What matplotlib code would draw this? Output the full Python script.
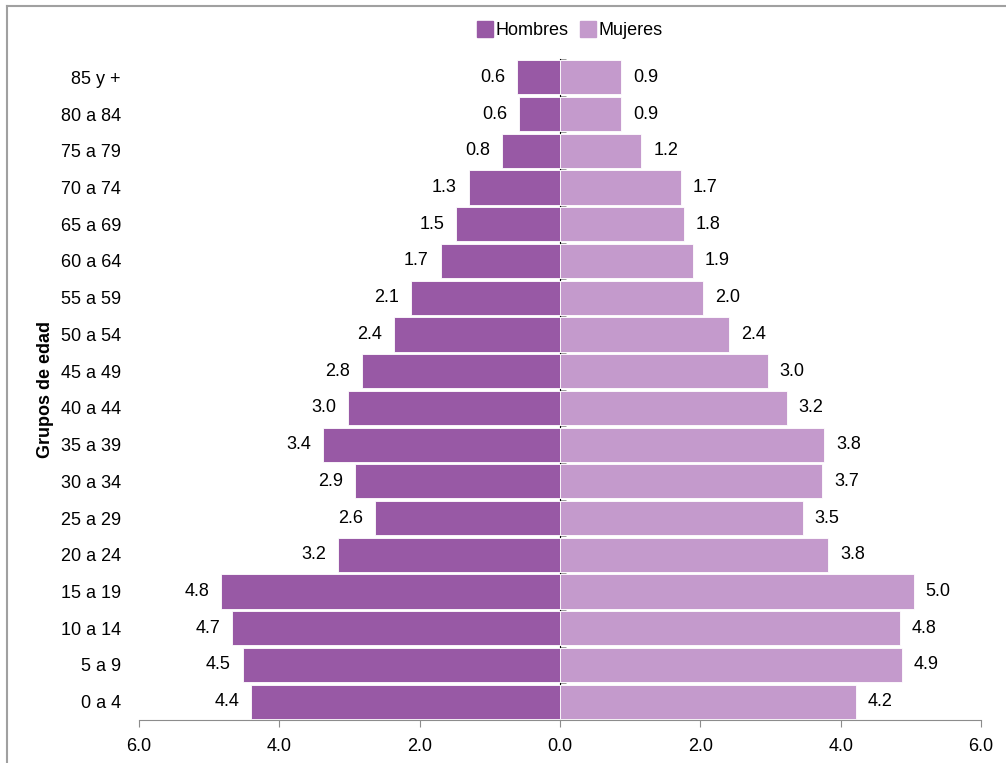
import matplotlib.pyplot as plt
from matplotlib.lines import Line2D
from matplotlib.ticker import FuncFormatter

plt.rcParams['font.family'] = ['Liberation Sans', 'DejaVu Sans']

# age groups, bottom to top
grupos = ['0 a 4', '5 a 9', '10 a 14', '15 a 19', '20 a 24', '25 a 29', '30 a 34',
          '35 a 39', '40 a 44', '45 a 49', '50 a 54', '55 a 59', '60 a 64',
          '65 a 69', '70 a 74', '75 a 79', '80 a 84', '85 y +']
hombres = [4.40, 4.52, 4.67, 4.83, 3.16, 2.64, 2.92, 3.38, 3.02, 2.82, 2.36, 2.12,
           1.70, 1.48, 1.30, 0.83, 0.58, 0.61]
mujeres = [4.22, 4.87, 4.84, 5.04, 3.82, 3.46, 3.74, 3.77, 3.23, 2.96, 2.41, 2.04,
           1.89, 1.77, 1.72, 1.16, 0.87, 0.87]
xticks = [-6, -4, -2, 0, 2, 4, 6]

c_h = '#9859A5'
c_m = '#C49ACC'
fs = 13

fig = plt.figure(figsize=(10.06, 7.63), dpi=100)
ax = fig.add_axes([0.1382, 0.0563, 0.8369, 0.8664])

y = list(range(len(grupos)))
neg_h = [-v for v in hombres]
ax.barh(y, neg_h, height=0.93, color=c_h, edgecolor='white', linewidth=0.6)
ax.barh(y, mujeres, height=0.93, color=c_m, edgecolor='white', linewidth=0.6)

for i in y:
    ax.text(-hombres[i] - 0.17, i, '%.1f' % hombres[i], ha='right', va='center', fontsize=fs)
    ax.text(mujeres[i] + 0.17, i, '%.1f' % mujeres[i], ha='left', va='center', fontsize=fs)

ax.set_xlim(-6, 6)
ax.set_ylim(-0.5, len(grupos) - 0.5)
ax.set_xticks(xticks)
ax.xaxis.set_major_formatter(FuncFormatter(lambda v, p: '%.1f' % abs(v)))
ax.tick_params(axis='x', length=5, color='#8c8c8c', labelsize=fs, pad=8)

ax.set_yticks(y)
ax.set_yticklabels(grupos, fontsize=fs)
ax.tick_params(axis='y', length=0, pad=13)

for s in ['top', 'right', 'left']:
    ax.spines[s].set_visible(False)
ax.spines['bottom'].set_color('#8c8c8c')

# vertical axis line at zero with tick marks
sec = ax.secondary_yaxis(0.5)
sec.spines['left'].set_color('#8c8c8c')
sec.set_yticks(y)
sec.set_yticks([i - 0.5 for i in range(len(grupos) + 1)], minor=True)
sec.set_yticklabels([])
sec.tick_params(which='both', length=4, color='#8c8c8c')

ax.set_ylabel('Grupos de edad', fontsize=fs, fontweight='bold')
ax.yaxis.set_label_coords(-0.101, 0.5)

handles = [Line2D([], [], marker='s', linestyle='', markersize=12, color=c_h),
           Line2D([], [], marker='s', linestyle='', markersize=12, color=c_m)]
fig.legend(handles, ['Hombres', 'Mujeres'], loc='center', bbox_to_anchor=(0.566, 0.96),
           ncol=2, frameon=False, fontsize=fs, handletextpad=0.05, columnspacing=0.6,
           handlelength=1.0)

# chart frame (top and left edges)
fig.add_artist(Line2D([6.5 / 1006, 1], [1 - 5.5 / 763, 1 - 5.5 / 763], color='#a0a0a0', lw=1.5))
fig.add_artist(Line2D([6.5 / 1006, 6.5 / 1006], [0, 1 - 5.5 / 763], color='#a0a0a0', lw=1.5))

fig.savefig('out.png', dpi=100)
